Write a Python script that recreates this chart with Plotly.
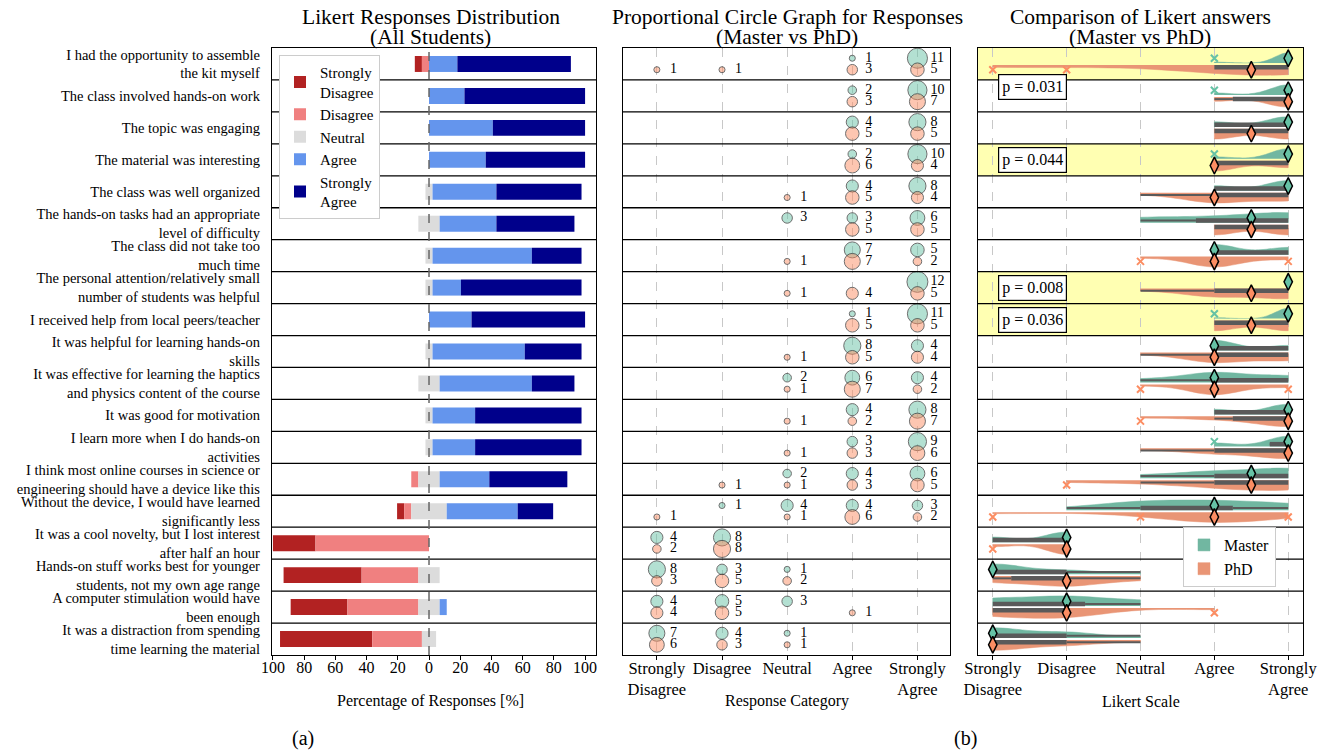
import numpy as np
import plotly.graph_objects as go

FONT = "Liberation Serif"

questions = [
    "I had the opportunity to assemble<br>the kit myself",
    "The class involved hands-on work",
    "The topic was engaging",
    "The material was interesting",
    "The class was well organized",
    "The hands-on tasks had an appropriate<br>level of difficulty",
    "The class did not take too<br>much time",
    "The personal attention/relatively small<br>number of students was helpful",
    "I received help from local peers/teacher",
    "It was helpful for learning hands-on<br>skills",
    "It was effective for learning the haptics<br>and physics content of the course",
    "It was good for motivation",
    "I learn more when I do hands-on<br>activities",
    "I think most online courses in science or<br>engineering should have a device like this",
    "Without the device, I would have learned<br>significantly less",
    "It was a cool novelty, but I lost interest<br>after half an hour",
    "Hands-on stuff works best for younger<br>students, not my own age range",
    "A computer stimulation would have<br>been enough",
    "It was a distraction from spending<br>time learning the material",
]

legend_names = ["Strongly<br>Disagree", "Disagree", "Neutral", "Agree", "Strongly<br>Agree"]
category_ticks = ["Strongly<br>Disagree", "Disagree", "Neutral", "Agree", "Strongly<br>Agree"]
likert_values = [1, 2, 3, 4, 5]

# counts per question: [SD, D, N, A, SA]
master_counts = [
    [0, 0, 0, 1, 11],
    [0, 0, 0, 2, 10],
    [0, 0, 0, 4, 8],
    [0, 0, 0, 2, 10],
    [0, 0, 0, 4, 8],
    [0, 0, 3, 3, 6],
    [0, 0, 0, 7, 5],
    [0, 0, 0, 0, 12],
    [0, 0, 0, 1, 11],
    [0, 0, 0, 8, 4],
    [0, 0, 2, 6, 4],
    [0, 0, 0, 4, 8],
    [0, 0, 0, 3, 9],
    [0, 0, 2, 4, 6],
    [0, 1, 4, 4, 3],
    [4, 8, 0, 0, 0],
    [8, 3, 1, 0, 0],
    [4, 5, 3, 0, 0],
    [7, 4, 1, 0, 0],
]
phd_counts = [
    [1, 1, 0, 3, 5],
    [0, 0, 0, 3, 7],
    [0, 0, 0, 5, 5],
    [0, 0, 0, 6, 4],
    [0, 0, 1, 5, 4],
    [0, 0, 0, 5, 5],
    [0, 0, 1, 7, 2],
    [0, 0, 1, 4, 5],
    [0, 0, 0, 5, 5],
    [0, 0, 1, 5, 4],
    [0, 0, 1, 7, 2],
    [0, 0, 1, 2, 7],
    [0, 0, 1, 3, 6],
    [0, 1, 1, 3, 5],
    [1, 0, 1, 6, 2],
    [2, 8, 0, 0, 0],
    [3, 5, 2, 0, 0],
    [4, 5, 0, 1, 0],
    [6, 3, 1, 0, 0],
]

p_rows = [0, 3, 7, 8]
p_values = [0.031, 0.044, 0.008, 0.036]
p_label_offsets = [-0.73, 0.0, 0.0, 0.0]

panel_titles = [
    ("Likert Responses Distribution", "(All Students)"),
    ("Proportional Circle Graph for Responses", "(Master vs PhD)"),
    ("Comparison of Likert answers", "(Master vs PhD)"),
]
axis_titles = ["Percentage of Responses [%]", "Response Category", "Likert Scale"]

pct_tickvals = [-100, -80, -60, -40, -20, 0, 20, 40, 60, 80, 100]
pct_ticktext = ["100", "80", "60", "40", "20", "0", "20", "40", "60", "80", "100"]

bar_colors = ["#b22222", "#f08080", "#dcdcdc", "#6495ed", "#00008b"]
m_fill, p_fill = "#71b7a1", "#e99575"
m_mark, p_mark = "#66c2a5", "#fc8d62"

n = len(questions)
ypos = np.arange(n)[::-1].astype(float)
M = np.array(master_counts)
P = np.array(phd_counts)
T = M + P
pct = T / T.sum(axis=1, keepdims=True) * 100.0
nh = pct[:, 2] / 2
bases = [-nh - pct[:, 1] - pct[:, 0], -nh - pct[:, 1], -nh, nh, nh + pct[:, 3]]

fig = go.Figure()

# ---------- Panel (a): diverging stacked bars ----------
for k in range(5):
    fig.add_trace(go.Bar(
        x=pct[:, k], base=bases[k], y=ypos, orientation="h", width=0.5,
        marker=dict(color=bar_colors[k], line=dict(width=0)),
        name=legend_names[k], xaxis="x", yaxis="y", legend="legend",
        hoverinfo="skip"))

# ---------- Panel (b1): proportional circles ----------
for counts, fill, off in [(M, "rgba(102,194,165,0.7)", 0.18), (P, "rgba(252,141,98,0.7)", -0.18)]:
    xs, ys, ss = [], [], []
    for i in range(n):
        for k in range(5):
            if counts[i, k] > 0:
                xs.append(k)
                ys.append(ypos[i] + off)
                ss.append(int(counts[i, k]))
    fig.add_trace(go.Scatter(
        x=xs, y=ys, mode="markers",
        marker=dict(size=ss, sizemode="area", sizeref=0.0545, color=fill,
                    line=dict(color="#333333", width=1)),
        xaxis="x2", yaxis="y2", showlegend=False, hoverinfo="skip"))
    fig.add_trace(go.Scatter(
        x=np.array(xs) + 0.2, y=ys, mode="text", text=[str(s) for s in ss],
        textposition="middle right", textfont=dict(size=14, family=FONT, color="black"),
        xaxis="x2", yaxis="y2", showlegend=False, hoverinfo="skip"))

# ---------- Panel (b2): split violins ----------
iqr_lines = {"M": ([], []), "P": ([], [])}
wh_lines = {"M": ([], []), "P": ([], [])}
outl = {"M": ([], []), "P": ([], [])}
meds = {"M": ([], []), "P": ([], [])}
shown = {"M": False, "P": False}
for i in range(n):
    for key, counts, side, vpos, bpos, fill, nm in [
        ("M", M, "positive", ypos[i] + 0.03, ypos[i] + 0.1, m_fill, "Master"),
        ("P", P, "negative", ypos[i] - 0.03, ypos[i] - 0.1, p_fill, "PhD")]:
        vals = np.repeat(likert_values, counts[i]).astype(float)
        mpos = ypos[i] + (0.18 if key == "M" else -0.18)
        if np.unique(vals).size > 1:
            bw = vals.std(ddof=1) * vals.size ** (-0.2)
            fig.add_trace(go.Violin(
                x=vals, y0=vpos, orientation="h", side=side, width=0.64,
                bandwidth=bw, spanmode="hard", scalemode="width",
                fillcolor=fill, line=dict(color=fill, width=0.5), opacity=1,
                points=False, box_visible=False, meanline_visible=False,
                name=nm, legend="legend2", showlegend=not shown[key],
                xaxis="x3", yaxis="y3", hoverinfo="skip"))
            shown[key] = True
        q1, med, q3 = np.percentile(vals, [25, 50, 75])
        iqr = q3 - q1
        lo_f, hi_f = q1 - 1.5 * iqr, q3 + 1.5 * iqr
        inl = vals[(vals >= lo_f) & (vals <= hi_f)]
        out = np.unique(vals[(vals < lo_f) | (vals > hi_f)])
        iqr_lines[key][0].extend([q1, q3, None])
        iqr_lines[key][1].extend([bpos, bpos, None])
        wh_lines[key][0].extend([inl.min(), q1, None, q3, inl.max(), None])
        wh_lines[key][1].extend([bpos, bpos, None, bpos, bpos, None])
        outl[key][0].extend(out.tolist())
        outl[key][1].extend([mpos] * out.size)
        meds[key][0].append(med)
        meds[key][1].append(mpos)

for key in ["M", "P"]:
    fig.add_trace(go.Scatter(x=wh_lines[key][0], y=wh_lines[key][1], mode="lines",
                             line=dict(color="#5a5a5a", width=2), xaxis="x3", yaxis="y3",
                             showlegend=False, hoverinfo="skip"))
    fig.add_trace(go.Scatter(x=iqr_lines[key][0], y=iqr_lines[key][1], mode="lines",
                             line=dict(color="#5a5a5a", width=4.5), xaxis="x3", yaxis="y3",
                             showlegend=False, hoverinfo="skip"))
for key, col in [("M", m_mark), ("P", p_mark)]:
    fig.add_trace(go.Scatter(x=outl[key][0], y=outl[key][1], mode="markers",
                             marker=dict(symbol="x-thin", size=7, line=dict(color=col, width=2)),
                             xaxis="x3", yaxis="y3", showlegend=False, hoverinfo="skip"))
for key, col in [("M", m_mark), ("P", p_mark)]:
    fig.add_trace(go.Scatter(x=meds[key][0], y=meds[key][1], mode="markers",
                             marker=dict(symbol="diamond-tall", size=12, color=col,
                                         line=dict(color="black", width=1.5)),
                             xaxis="x3", yaxis="y3", showlegend=False, hoverinfo="skip"))

# ---------- Layout ----------
W, H = 1330, 753
ydom = [1 - 655 / H, 1 - 48 / H]
dom1 = [272 / W, 596 / W]
dom2 = [623 / W, 950 / W]
dom3 = [978 / W, 1303 / W]
frame = dict(showline=True, mirror=True, linecolor="black", linewidth=1.3, zeroline=False,
             automargin=False)

shapes = []
for xr, yr in [("x", "y"), ("x2", "y2"), ("x3", "y3")]:
    for k in range(n - 1):
        shapes.append(dict(type="line", xref=xr + " domain", yref=yr, x0=0, x1=1,
                           y0=k + 0.5, y1=k + 0.5, line=dict(color="black", width=1.3),
                           layer="above"))
for r in p_rows:
    shapes.append(dict(type="rect", xref="x3 domain", yref="y3", x0=0, x1=1,
                       y0=ypos[r] - 0.5, y1=ypos[r] + 0.5, fillcolor="rgba(255,255,0,0.3)",
                       line=dict(width=0), layer="below"))
shapes.append(dict(type="line", xref="x", yref="y domain", x0=0, x1=0, y0=0, y1=1,
                   line=dict(color="#666666", width=1.5, dash="dash"), layer="above"))

annotations = []
title_x = [431, 787, 1140]
for (l1, l2), xc in zip(panel_titles, title_x):
    for txt, yc in [(l1, 17), (l2, 37)]:
        annotations.append(dict(text=txt, x=xc / W, y=1 - yc / H, xref="paper", yref="paper",
                                showarrow=False, font=dict(size=21.5, family=FONT, color="black"),
                                xanchor="center", yanchor="middle"))
for txt, xc in zip(axis_titles, [431, 787, 1141]):
    annotations.append(dict(text=txt, x=xc / W, y=1 - 701 / H, xref="paper", yref="paper",
                            showarrow=False, font=dict(size=16, family=FONT, color="black"),
                            xanchor="center", yanchor="middle"))
for txt, xc in [("(a)", 303), ("(b)", 965)]:
    annotations.append(dict(text=txt, x=xc / W, y=1 - 738 / H, xref="paper", yref="paper",
                            showarrow=False, font=dict(size=20, family=FONT, color="black"),
                            xanchor="center", yanchor="middle"))
for r, pv, off in zip(p_rows, p_values, p_label_offsets):
    annotations.append(dict(text=f"p = {pv:.3f}", x=1.07, y=ypos[r] + off, xref="x3", yref="y3",
                            showarrow=False, xanchor="left", yanchor="middle",
                            font=dict(size=16, family=FONT, color="black"),
                            bgcolor="white", bordercolor="black", borderwidth=1.2, borderpad=3))

xtick_common = dict(ticks="outside", ticklen=4, tickcolor="black", ticklabelstandoff=-6)

fig.update_layout(
    width=W, height=H, margin=dict(l=0, r=0, t=0, b=0, autoexpand=False),
    autosize=False,
    plot_bgcolor="white", paper_bgcolor="white",
    barmode="overlay", violinmode="overlay",
    font=dict(family=FONT, color="black"),
    shapes=shapes, annotations=annotations,
    xaxis=dict(domain=dom1, range=[-100.6, 107], tickvals=pct_tickvals, ticktext=pct_ticktext,
               showgrid=False, tickfont=dict(size=16, family=FONT), anchor="y",
               **xtick_common, **frame),
    yaxis=dict(domain=ydom, range=[-0.5, n - 0.5], tickvals=ypos, ticktext=questions,
               ticks="", showgrid=False, ticklabelstandoff=8,
               tickfont=dict(size=14.5, family=FONT), anchor="x", **frame),
    xaxis2=dict(domain=dom2, range=[-0.52, 4.5], tickvals=[0, 1, 2, 3, 4], ticktext=category_ticks,
                showgrid=True, griddash="dash", gridcolor="#c8c8c8", gridwidth=1,
                tickfont=dict(size=16.5, family=FONT), anchor="y2", **xtick_common, **frame),
    yaxis2=dict(domain=ydom, range=[-0.5, n - 0.5], showticklabels=False, ticks="",
                showgrid=False, anchor="x2", **frame),
    xaxis3=dict(domain=dom3, range=[0.8, 5.2], tickvals=likert_values, ticktext=category_ticks,
                showgrid=True, griddash="dash", gridcolor="#c8c8c8", gridwidth=1,
                tickfont=dict(size=16.5, family=FONT), anchor="y3", **xtick_common, **frame),
    yaxis3=dict(domain=ydom, range=[-0.5, n - 0.5], showticklabels=False, ticks="",
                showgrid=False, anchor="x3", **frame),
    legend=dict(x=279 / W, y=1 - 55 / H, xanchor="left", yanchor="top",
                bgcolor="white", bordercolor="#cccccc", borderwidth=1,
                font=dict(size=15, family=FONT, color="black"), traceorder="normal",
                itemwidth=30, tracegroupgap=0),
    legend2=dict(x=1183 / W, y=1 - 527 / H, xanchor="left", yanchor="top",
                 bgcolor="white", bordercolor="#cccccc", borderwidth=1,
                 font=dict(size=16, family=FONT, color="black"), itemwidth=30),
)

fig.write_html("out.html", config={"displayModeBar": False},
               post_script="document.body.style.margin='0';document.body.style.overflow='hidden';")
